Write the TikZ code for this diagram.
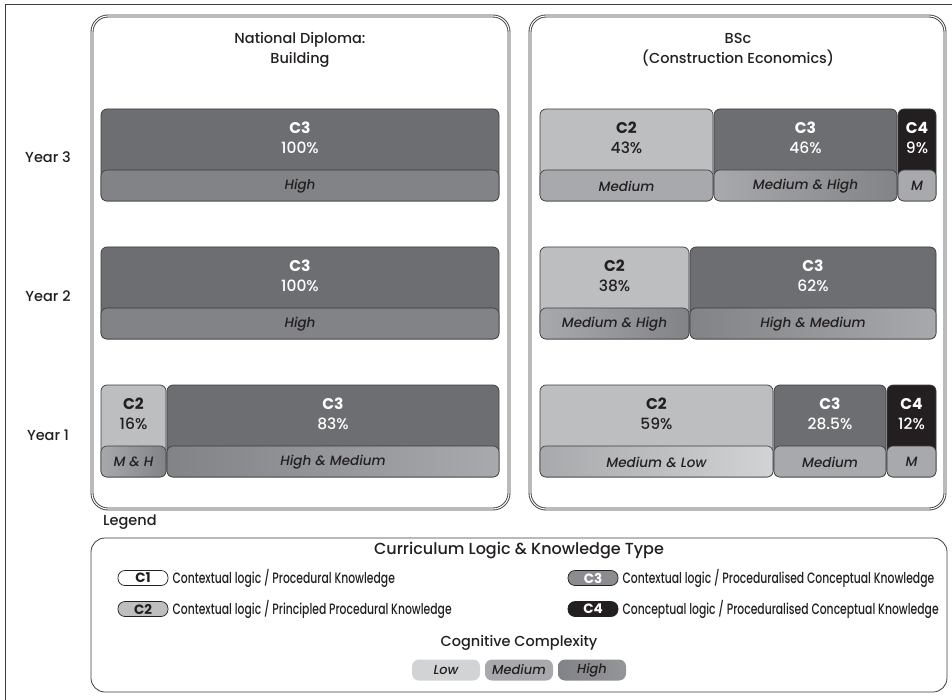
\documentclass[tikz,border=0pt]{standalone}
\usepackage{fontspec}
\setmainfont{Poppins}[UprightFont={* Medium}, ItalicFont={* Medium Italic}, BoldFont={* Bold}, BoldItalicFont={* Bold Italic}]
\newfontfamily\condfont{Poppins}[UprightFont={* Medium}, FakeStretch=0.72]

\definecolor{ink}{HTML}{231F20}
\definecolor{linec}{HTML}{3C3C3E}
\definecolor{ctwo}{HTML}{BCBEC0}
\definecolor{cthree}{HTML}{6D6E71}
\definecolor{cfour}{HTML}{231F20}
\definecolor{high}{HTML}{818386}
\definecolor{medium}{HTML}{A7A9AC}
\definecolor{low}{HTML}{D1D3D4}
\definecolor{pillthree}{HTML}{8A8C8F}

\tikzset{
  panel/.style={draw=linec, line width=0.9pt, double=white, double distance=1.1pt, rounded corners=16pt},
  seg/.style={draw=linec, line width=0.7pt, rounded corners=6pt},
  stripbox/.style={draw=linec, line width=0.6pt, rounded corners=6pt},
  codetext/.style={align=center, inner sep=0pt, font=\fontsize{15.5}{19.5}\selectfont},
  striptext/.style={inner sep=0pt, text=ink, font=\fontsize{13.5}{15}\selectfont\itshape},
  heading/.style={align=center, inner sep=0pt, text=ink, font=\fontsize{14.5}{20}\selectfont},
  yearlabel/.style={inner sep=0pt, text=ink, font=\fontsize{14.5}{18}\selectfont},
  pill/.style={draw=ink, line width=0.7pt, rounded corners=7pt, minimum width=50pt, minimum height=15pt, inner sep=0pt, font=\fontsize{13.5}{15}\selectfont\bfseries},
  legdesc/.style={anchor=west, inner sep=0pt, text=ink, font=\fontsize{15}{17}\selectfont\condfont},
  levelpill/.style={rounded corners=7pt, minimum width=68pt, minimum height=21pt, inner sep=0pt, text=ink, font=\fontsize{13}{15}\selectfont\itshape},
}

% one knowledge segment: name, x1, x2, top, fill, text colour, code, share
\newcommand{\kseg}[8]{%
  \draw[seg, fill=#5] (#2,#4) rectangle (#3,#4+92);
  \node[codetext, text=#6] (#1) at ({(#2+#3)/2},#4+29) {\textbf{#7}\\#8};
}
% complexity strip at the foot of a segment: name, x1, x2, top, shading, label
\newcommand{\kstrip}[6]{%
  \draw[stripbox, #5] (#2,#4+61) rectangle (#3,#4+92);
  \node[striptext] (#1) at ({(#2+#3)/2},#4+77) {#6};
}

\begin{document}
\begin{tikzpicture}[x=1pt,y=-1pt]
\useasboundingbox (0,0) rectangle (952,700);

% outer frame (open to the right and bottom)
\draw[linec, line width=1pt] (5,700) -- (5,5) -- (952,5);

% programme panels
\draw[panel] (92,16) rectangle (509,509);
\draw[panel] (530,16) rectangle (945,509);
\node[heading] (ndtitle) at (300,50) {National Diploma:\\Building};
\node[heading] (bsctitle) at (738,50) {BSc\\(Construction Economics)};

% year labels
\node[yearlabel] (y3) at (48,157) {Year 3};
\node[yearlabel] (y2) at (48,296) {Year 2};
\node[yearlabel] (y1) at (48,435) {Year 1};

% National Diploma
\kseg{nd3c3}{101}{499}{109}{cthree}{white}{C3}{100\%}
\kstrip{nd3s3}{101}{499}{109}{fill=high}{High}
\kseg{nd2c3}{101}{499}{247}{cthree}{white}{C3}{100\%}
\kstrip{nd2s3}{101}{499}{247}{fill=high}{High}
\kseg{nd1c2}{101}{166}{385}{ctwo}{ink}{C2}{16\%}
\kstrip{nd1s2}{101}{166}{385}{left color=medium,right color=high}{M \& H}
\kseg{nd1c3}{167}{499}{385}{cthree}{white}{C3}{83\%}
\kstrip{nd1s3}{167}{499}{385}{left color=high,right color=medium}{High \& Medium}

% BSc
\kseg{bs3c2}{540}{713}{109}{ctwo}{ink}{C2}{43\%}
\kstrip{bs3s2}{540}{713}{109}{fill=medium}{Medium}
\kseg{bs3c3}{714}{897}{109}{cthree}{white}{C3}{46\%}
\kstrip{bs3s3}{714}{897}{109}{left color=medium,right color=high}{Medium \& High}
\kseg{bs3c4}{898}{936}{109}{cfour}{white}{C4}{9\%}
\kstrip{bs3s4}{898}{936}{109}{fill=medium}{M}

\kseg{bs2c2}{540}{689}{247}{ctwo}{ink}{C2}{38\%}
\kstrip{bs2s2}{540}{689}{247}{left color=medium,right color=high}{Medium \& High}
\kseg{bs2c3}{690}{936}{247}{cthree}{white}{C3}{62\%}
\kstrip{bs2s3}{690}{936}{247}{left color=high,right color=medium}{High \& Medium}

\kseg{bs1c2}{540}{773}{385}{ctwo}{ink}{C2}{59\%}
\kstrip{bs1s2}{540}{773}{385}{left color=medium,right color=low}{Medium \& Low}
\kseg{bs1c3}{774}{886}{385}{cthree}{white}{C3}{28.5\%}
\kstrip{bs1s3}{774}{886}{385}{fill=medium}{Medium}
\kseg{bs1c4}{887}{936}{385}{cfour}{white}{C4}{12\%}
\kstrip{bs1s4}{887}{936}{385}{fill=medium}{M}

% legend
\node[yearlabel, anchor=west] (legend) at (103,522) {Legend};
\draw[linec, line width=0.8pt, rounded corners=14pt] (91,538) rectangle (947,692);
\node[heading, font=\fontsize{16}{20}\selectfont] (ktitle) at (519,551) {Curriculum Logic \& Knowledge Type};

\node[pill, fill=white, text=ink] (kc1) at (143,578) {C1\hspace{9pt}};
\node[legdesc] (kd1) at ([xshift=4pt]kc1.east) {Contextual logic / Procedural Knowledge};
\node[pill, fill=ctwo, text=ink] (kc2) at (143,609) {C2\hspace{9pt}};
\node[legdesc] (kd2) at ([xshift=4pt]kc2.east) {Contextual logic / Principled Procedural Knowledge};
\node[pill, fill=pillthree, text=white] (kc3) at (593,578) {C3\hspace{9pt}};
\node[legdesc] (kd3) at ([xshift=4pt]kc3.east) {Contextual logic / Proceduralised Conceptual Knowledge};
\node[pill, fill=cfour, text=white] (kc4) at (593,609) {C4\hspace{9pt}};
\node[legdesc] (kd4) at ([xshift=4pt]kc4.east) {Conceptual logic / Proceduralised Conceptual Knowledge};

\node[heading] (ctitle) at (519,643) {Cognitive Complexity};
\node[levelpill, fill=low] (lvlow) at (446,670) {Low};
\node[levelpill, fill=medium] (lvmed) at (519,670) {Medium};
\node[levelpill, left color=high, right color=high!85!white] (lvhigh) at (592,670) {High};
\end{tikzpicture}
\end{document}
